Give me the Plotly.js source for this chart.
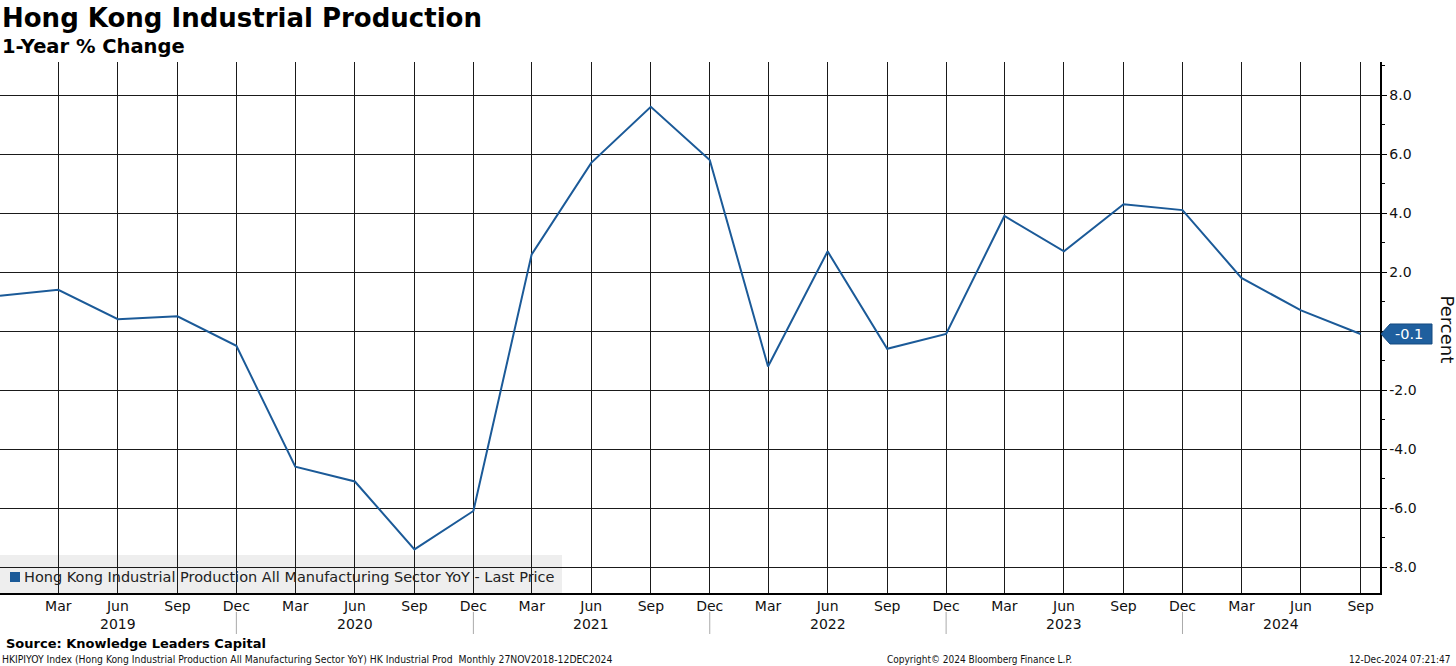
<!DOCTYPE html>
<html>
<head>
<meta charset="utf-8">
<script src="https://cdn.plot.ly/plotly-3.0.1.min.js"></script>
<style>
  html, body { margin: 0; padding: 0; background: #fff; }
  #chart { width: 1456px; height: 666px; }
</style>
</head>
<body>
<div id="chart"></div>
<script>
// ---- Data (quarterly) ----
const dates = ['2018-12-01','2019-03-01','2019-06-01','2019-09-01','2019-12-01',
  '2020-03-01','2020-06-01','2020-09-01','2020-12-01',
  '2021-03-01','2021-06-01','2021-09-01','2021-12-01',
  '2022-03-01','2022-06-01','2022-09-01','2022-12-01',
  '2023-03-01','2023-06-01','2023-09-01','2023-12-01',
  '2024-03-01','2024-06-01','2024-09-01'];
const yoy = [1.2, 1.4, 0.4, 0.5, -0.5,
  -4.6, -5.1, -7.4, -6.1,
  2.6, 5.7, 7.6, 5.8,
  -1.2, 2.7, -0.6, -0.1,
  3.9, 2.7, 4.3, 4.1,
  1.8, 0.7, -0.1];
const tickDates = dates.slice(1);
const tickLabels = ['Mar','Jun','Sep','Dec','Mar','Jun','Sep','Dec','Mar','Jun','Sep','Dec',
  'Mar','Jun','Sep','Dec','Mar','Jun','Sep','Dec','Mar','Jun','Sep'];
const yearLabels = ['2019','2020','2021','2022','2023','2024'];
const yearLabelPos = ['2019-06-01','2020-06-01','2021-06-01','2022-06-01','2023-06-01','2024-05-01'];
const yearSeparators = ['2019-12-01','2020-12-01','2021-12-01','2022-12-01','2023-12-01'];
const yTickVals = [-8, -6, -4, -2, 0, 2, 4, 6, 8];
const yTickText = ['-8.0', '-6.0', '-4.0', '-2.0', '', '2.0', '4.0', '6.0', '8.0'];
const seriesName = 'Hong Kong Industrial Production All Manufacturing Sector YoY - Last Price';
const lastValue = yoy[yoy.length - 1];

const lineColor = '#1b5a98';
const tickFont = { family: 'DejaVu Sans, Verdana, sans-serif', size: 14, color: '#111' };

const trace = {
  x: dates, y: yoy, type: 'scatter', mode: 'lines',
  line: { color: lineColor, width: 2 },
  name: seriesName, showlegend: false, hoverinfo: 'x+y'
};

const shapes = [];
const annotations = [];

// legend box (below gridlines)
shapes.push({ type: 'rect', xref: 'paper', yref: 'paper', layer: 'below',
  x0: 0, x1: 562/1380, y0: 0, y1: 38/531, fillcolor: '#eeeeee', line: { width: 0 } });
// legend swatch
shapes.push({ type: 'rect', xref: 'paper', yref: 'paper', layer: 'above',
  x0: 10/1380, x1: 20/1380, y0: (593-582)/531, y1: (593-572)/531,
  fillcolor: lineColor, line: { width: 0 } });
annotations.push({ xref: 'paper', yref: 'paper', x: 22/1380, y: (593-577)/531,
  xanchor: 'left', yanchor: 'middle', showarrow: false, text: seriesName,
  font: { family: 'DejaVu Sans, Verdana, sans-serif', size: 14.5, color: '#222' } });

// year separators under the axis
yearSeparators.forEach(d => shapes.push({ type: 'line', xref: 'x', yref: 'paper',
  x0: d, x1: d, y0: -(612-593)/531, y1: -(634-593)/531, line: { color: '#aaaaaa', width: 1 } }));
// year labels
yearLabels.forEach((t, i) => annotations.push({ xref: 'x', yref: 'paper', x: yearLabelPos[i],
  y: -(624-593)/531, xanchor: 'center', yanchor: 'middle', showarrow: false, text: t, font: tickFont }));

// last value tag on right axis
shapes.push({ type: 'path', xref: 'paper', yref: 'y', xsizemode: 'pixel', ysizemode: 'pixel',
  xanchor: 1, yanchor: lastValue, layer: 'above',
  path: 'M1,0 L10,10 L52,10 L52,-10 L10,-10 Z', fillcolor: '#1f5f9e', line: { color: '#154a80', width: 1 } });
annotations.push({ xref: 'paper', yref: 'y', x: 1, y: lastValue, xanchor: 'left', yanchor: 'middle',
  xshift: 13, showarrow: false, text: lastValue.toFixed(1),
  font: { family: 'DejaVu Sans, Verdana, sans-serif', size: 14.5, color: '#ffffff' } });

// "Percent" axis label
annotations.push({ xref: 'paper', yref: 'paper', x: 1, y: (593-329)/531, xanchor: 'left', yanchor: 'middle',
  xshift: 54, showarrow: false, text: 'Percent', textangle: 90,
  font: { family: 'DejaVu Sans, Verdana, sans-serif', size: 18, color: '#111' } });

// Titles and footer
annotations.push({ xref: 'paper', yref: 'paper', x: 0, y: 1, xshift: 0, yshift: 44, xanchor: 'left', yanchor: 'middle',
  showarrow: false, text: '<b>Hong Kong Industrial Production</b>',
  font: { family: 'DejaVu Sans, Verdana, sans-serif', size: 26, color: '#000' } });
annotations.push({ xref: 'paper', yref: 'paper', x: 0, y: 1, yshift: 16, xanchor: 'left', yanchor: 'middle',
  showarrow: false, text: '<b>1-Year % Change</b>',
  font: { family: 'DejaVu Sans, Verdana, sans-serif', size: 19.5, color: '#000' } });
annotations.push({ xref: 'paper', yref: 'paper', x: 0, y: 0, xshift: 4, yshift: -50, xanchor: 'left', yanchor: 'middle',
  showarrow: false, text: '<b>Source: Knowledge Leaders Capital</b>',
  font: { family: 'DejaVu Sans, Verdana, sans-serif', size: 13, color: '#000' } });
const smallFont = { family: 'DejaVu Sans Condensed, Liberation Sans Narrow, sans-serif', size: 10, color: '#111' };
annotations.push({ xref: 'paper', yref: 'paper', x: 0, y: 0, xshift: 0, yshift: -66, xanchor: 'left', yanchor: 'middle',
  showarrow: false, text: 'HKIPIYOY Index (Hong Kong Industrial Production All Manufacturing Sector YoY) HK Industrial Prod&nbsp;&nbsp;Monthly 27NOV2018-12DEC2024',
  font: { family: smallFont.family, size: 10.3, color: '#111' } });
annotations.push({ xref: 'paper', yref: 'paper', x: 979/1380, y: 0, yshift: -66, xanchor: 'center', yanchor: 'middle',
  showarrow: false, text: 'Copyright© 2024 Bloomberg Finance L.P.', font: smallFont });
annotations.push({ xref: 'paper', yref: 'paper', x: 1, y: 0, xshift: 73, yshift: -66, xanchor: 'right', yanchor: 'middle',
  showarrow: false, text: '12-Dec-2024 07:21:47', font: smallFont });

const layout = {
  width: 1456, height: 666,
  margin: { l: 0, r: 76, t: 62, b: 73, pad: 0 },
  paper_bgcolor: '#ffffff', plot_bgcolor: 'rgba(0,0,0,0)',
  showlegend: false,
  xaxis: {
    type: 'date', range: ['2018-12-01', '2024-10-01'],
    tickmode: 'array', tickvals: tickDates, ticktext: tickLabels,
    showgrid: true, gridcolor: '#1a1a1a', gridwidth: 1,
    showline: true, linecolor: '#000', linewidth: 1.5,
    ticks: '', ticklabelstandoff: 0,
    tickfont: tickFont, zeroline: false, fixedrange: true
  },
  yaxis: {
    side: 'right', range: [-8.88, 9.12],
    tickmode: 'array', tickvals: yTickVals, ticktext: yTickText,
    showgrid: true, gridcolor: '#1a1a1a', gridwidth: 1,
    showline: true, linecolor: '#000', linewidth: 1.5,
    ticks: 'outside', ticklen: 5, tickcolor: '#000',
    minor: { dtick: 1, tick0: 0, ticks: 'outside', ticklen: 3, tickcolor: '#000', showgrid: false },
    tickfont: tickFont, zeroline: false, fixedrange: true
  },
  shapes: shapes,
  annotations: annotations
};

Plotly.newPlot('chart', [trace], layout, { displayModeBar: false, staticPlot: true });
</script>
</body>
</html>
